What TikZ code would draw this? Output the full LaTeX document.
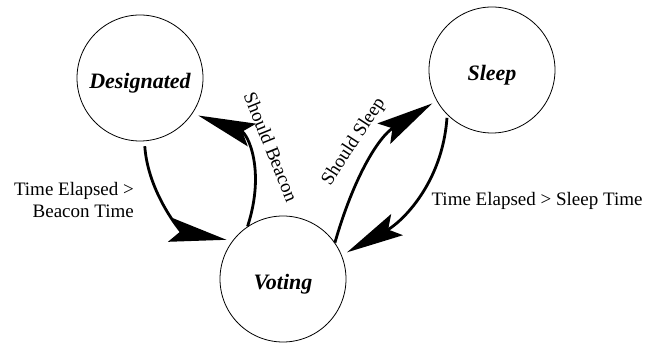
\documentclass[tikz,border=0pt]{standalone}
\usepackage{fontspec}
\setmainfont{Liberation Serif}
\usetikzlibrary{arrows.meta}

\begin{document}
\begin{tikzpicture}[
    x=1pt, y=1pt,
    state/.style={
        circle,
        draw,
        line width=0.8pt,
        minimum size=126pt,
        inner sep=0pt,
        text height=22pt,
        text depth=0pt,
        font=\fontsize{22}{26}\selectfont\bfseries\itshape
    },
    arrow/.style={-{Stealth[length=57pt, width=24pt, inset=10pt]}, line width=2.8pt},
    lbl/.style={font=\fontsize{19}{22}\selectfont, inner sep=0pt}
]
\useasboundingbox (0,0) rectangle (647,344);

\node[state] (des) at (140,266) {Designated};
\node[state] (slp) at (492,274) {Sleep};
\node[state] (vot) at (283,65) {Voting};

\draw[arrow, shorten <=5pt, shorten >=6pt] (des.274) to[out=274, in=170] (vot.143);
\draw[arrow, shorten >=6pt] (vot.124) to[out=72, in=340, looseness=1.2] (des.326);
\draw[arrow, shorten >=5pt] (vot.35) to[out=74, in=212] (slp.209);
\draw[arrow, shorten <=3pt, shorten >=6pt] (slp.225) to[out=266, in=29] (vot.22);

\node[lbl, anchor=east, align=right] (beacontime) at (134,144) {Time Elapsed >\\Beacon Time};
\node[lbl] (sleeptime) at (537,143) {Time Elapsed > Sleep Time};
\node[lbl, rotate=-68] (shouldbeacon) at (271,197) {Should Beacon};
\node[lbl, rotate=57] (shouldsleep) at (354,202) {Should Sleep};

\end{tikzpicture}
\end{document}
